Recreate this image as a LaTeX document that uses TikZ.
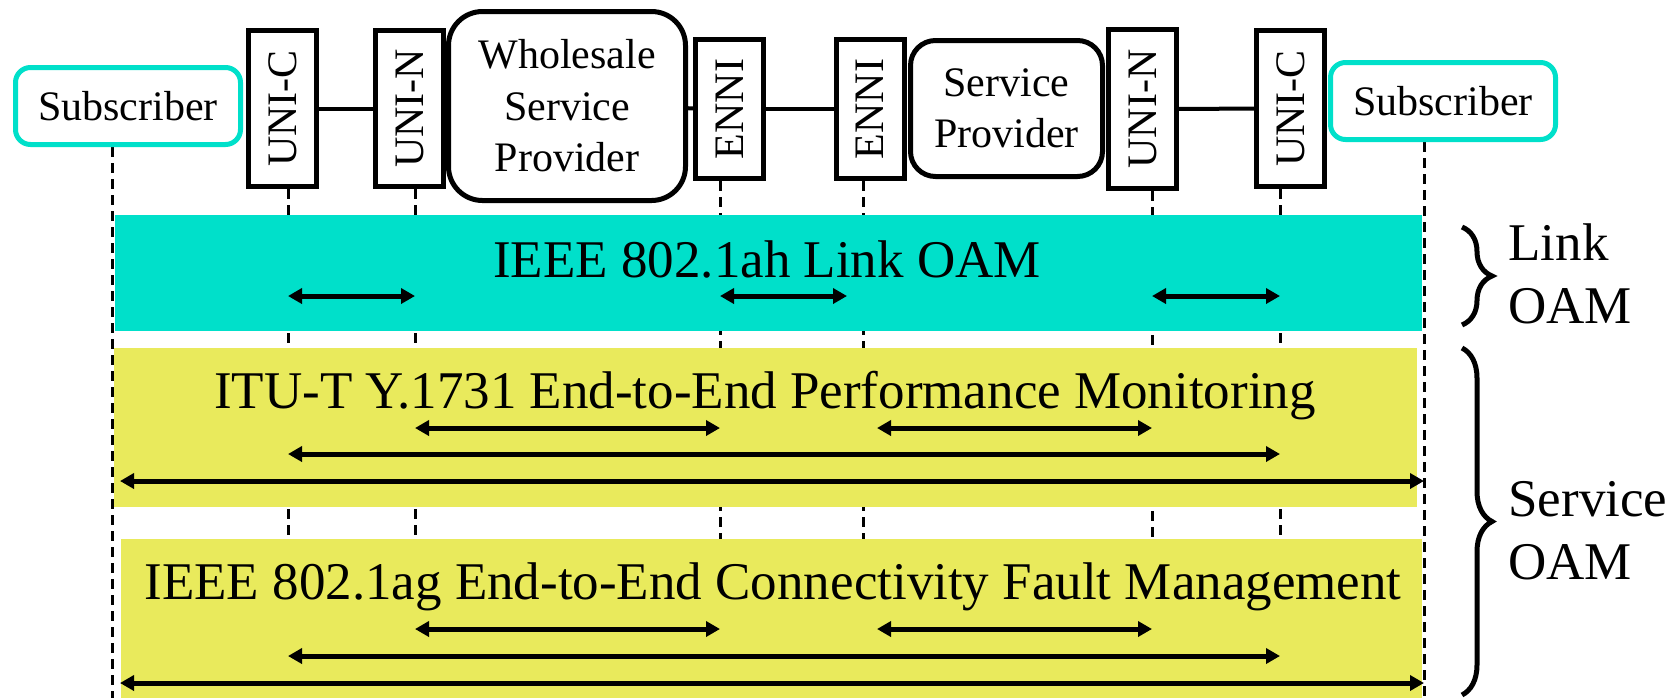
\documentclass[tikz,border=0pt]{standalone}
\usepackage{fontspec}
\setmainfont{Liberation Serif}
\usepackage{graphicx}
\usetikzlibrary{
    arrows.meta,
    decorations.pathreplacing
}
\definecolor{linkTeal}{RGB}{0, 224, 202}
\definecolor{serviceYellow}{RGB}{233, 234, 92}

\begin{document}
\begin{tikzpicture}[x=0.5pt, y=-0.5pt,
    boxfont/.style={font=\fontsize{21}{25.75}\selectfont},
    bigfont/.style={font=\fontsize{26.5}{31.5}\selectfont},
    subscriber/.style={draw=linkTeal, line width=2.5pt, rounded corners=7.5pt, fill=white, boxfont, minimum width=112.5pt, minimum height=38.5pt, inner sep=0pt},
    iface/.style={draw, line width=2.5pt, fill=white, boxfont, minimum width=34pt, inner sep=0pt},
    provider/.style={draw, line width=2.5pt, fill=white, boxfont, align=center, inner sep=0pt},
    wire/.style={line width=2pt},
    guide/.style={line width=1.5pt, dash pattern=on 5pt off 3pt},
    span/.style={{Triangle[length=7pt, width=7.5pt]}-{Triangle[length=7pt, width=7.5pt]}, line width=2.5pt},
    bandtext/.style={bigfont, anchor=base, inner sep=0pt},
    sidetext/.style={bigfont, anchor=west, align=left, inner sep=0pt},
    oambrace/.style={decorate, decoration={brace, amplitude=15pt}, line width=2.5pt}
]
    \useasboundingbox (0, 0) rectangle (1671, 698);

    % Guide lines
    \coordinate (bottom) at (0, 698);
    \coordinate (gSubL) at (112, 147);
    \coordinate (gUniCL) at (288, 189);
    \coordinate (gUniNL) at (415, 189);
    \coordinate (gEnniA) at (720, 181);
    \coordinate (gEnniB) at (863, 181);
    \coordinate (gUniNR) at (1152, 191);
    \coordinate (gUniCR) at (1280, 189);
    \coordinate (gSubR) at (1424, 142);
    \foreach \g in {gSubL, gUniCL, gUniNL, gEnniA, gEnniB, gUniNR, gUniCR, gSubR}
        \draw[guide] (\g) -- (\g |- bottom);

    % Bands
    \fill[linkTeal] (115, 215) rectangle (1422, 331);
    \fill[serviceYellow] (114, 348) rectangle (1417, 507);
    \fill[serviceYellow] (121, 539) rectangle (1422, 698);

    \node[bandtext] (lnkText) at (767, 277) {IEEE 802.1ah Link OAM};
    \node[bandtext] (pmText) at (765, 408) {ITU-T Y.1731 End-to-End Performance Monitoring};
    \node[bandtext] (cfmText) at (773, 599) {IEEE 802.1ag End-to-End Connectivity Fault Management};

    % Spans
    \coordinate (rLink) at (0, 296);
    \coordinate (rPmA) at (0, 428);
    \coordinate (rPmB) at (0, 454);
    \coordinate (rPmC) at (0, 481);
    \coordinate (rCfA) at (0, 629);
    \coordinate (rCfB) at (0, 656);
    \coordinate (rCfC) at (0, 683);
    \coordinate (eInL) at (847, 0);
    \coordinate (eInR) at (877, 0);
    \coordinate (eFarL) at (120, 0);
    \foreach \a/\b/\r in {gUniCL/gUniNL/rLink, gEnniA/eInL/rLink, gUniNR/gUniCR/rLink,
                          gUniNL/gEnniA/rPmA, eInR/gUniNR/rPmA, gUniCL/gUniCR/rPmB, eFarL/gSubR/rPmC,
                          gUniNL/gEnniA/rCfA, eInR/gUniNR/rCfA, gUniCL/gUniCR/rCfB, eFarL/gSubR/rCfC}
        \draw[span] (\a |- \r) -- (\b |- \r);

    % Braces
    \draw[oambrace] (1462, 227) -- (1462, 325);
    \draw[oambrace] (1462, 348) -- (1462, 695);
    \node[sidetext] (lnkSide) at (1508, 274) {Link\\OAM};
    \node[sidetext] (svcSide) at (1508, 531) {Service\\OAM};

    % Network
    \node[subscriber] (subL) at (128, 106) {Subscriber};
    \node[iface, minimum height=78pt] (uniCL) at (282.5, 108.5) {\rotatebox{90}{UNI-C}};
    \node[iface, minimum height=78pt] (uniNL) at (409.5, 108.5) {\rotatebox{90}{UNI-N}};
    \node[provider, rounded corners=17pt, minimum width=118.5pt, minimum height=94.5pt] (wsp) at (567, 106) {Wholesale\\Service\\Provider};
    \node[iface, minimum height=69.5pt] (enniA) at (729.5, 109) {\rotatebox{90}{ENNI}};
    \node[iface, minimum height=69.5pt] (enniB) at (870, 109) {\rotatebox{90}{ENNI}};
    \node[provider, rounded corners=12.5pt, minimum width=96pt, minimum height=68pt] (sp) at (1006.5, 108.5) {Service\\Provider};
    \node[iface, minimum height=79.5pt] (uniNR) at (1142.5, 109) {\rotatebox{90}{UNI-N}};
    \node[iface, minimum height=78pt] (uniCR) at (1290.5, 108.5) {\rotatebox{90}{UNI-C}};
    \node[subscriber] (subR) at (1443, 101) {Subscriber};

    \draw[wire] (uniCL) -- (uniNL);
    \draw[wire] (wsp) -- (enniA);
    \draw[wire] (enniA) -- (enniB);
    \draw[wire] (uniNR) -- (uniCR);
\end{tikzpicture}
\end{document}
